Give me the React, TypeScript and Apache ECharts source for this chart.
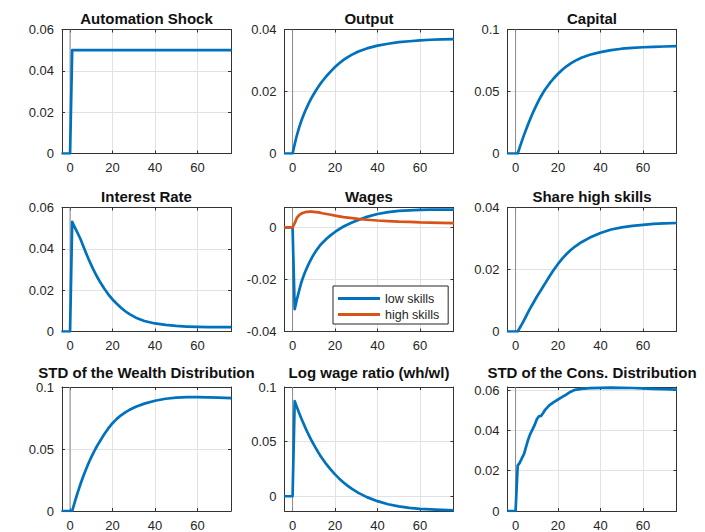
import React, { useEffect, useRef } from "react";
import * as echarts from "echarts";

// Periods after the automation shock (shock hits at t = 1)
const periods = [
  -4, 0,
  1, 2, 3, 4, 5, 6, 7,
  8, 9, 10, 11, 12, 13, 14,
  16, 18, 20, 22, 24, 26, 28,
  31, 35, 40, 45, 50,
  55, 60, 65, 70, 76,
];

const automationShock = [
  0, 0,
  0.05, 0.05, 0.05, 0.05, 0.05, 0.05, 0.05,
  0.05, 0.05, 0.05, 0.05, 0.05, 0.05, 0.05,
  0.05, 0.05, 0.05, 0.05, 0.05, 0.05, 0.05,
  0.05, 0.05, 0.05, 0.05, 0.05,
  0.05, 0.05, 0.05, 0.05, 0.05,
];

const output = [
  0, 0,
  0.003, 0.0058, 0.0082, 0.0103, 0.0121, 0.0138, 0.0153,
  0.0167, 0.018, 0.0192, 0.0203, 0.0214, 0.0224, 0.0233,
  0.025, 0.0265, 0.0279, 0.0291, 0.0302, 0.0311, 0.0319,
  0.0329, 0.0339, 0.0348, 0.0354, 0.0359,
  0.0362, 0.0365, 0.0367, 0.0368, 0.0369,
];

const capital = [
  0, 0,
  0, 0.0052, 0.0102, 0.015, 0.0196, 0.024, 0.0282,
  0.0322, 0.036, 0.0396, 0.043, 0.0462, 0.0492, 0.0518,
  0.0565, 0.0607, 0.0643, 0.0675, 0.0703, 0.0727, 0.0747,
  0.0772, 0.0796, 0.0818, 0.0834, 0.0845,
  0.0852, 0.0857, 0.086, 0.0863, 0.0866,
];

const interestRate = [
  0, 0,
  0.053, 0.0509, 0.0488, 0.0467, 0.0445, 0.0419, 0.0393,
  0.0368, 0.0344, 0.0321, 0.0299, 0.0279, 0.026, 0.0242,
  0.0209, 0.018, 0.0155, 0.0134, 0.0115, 0.0098, 0.0084,
  0.0067, 0.0051, 0.0039, 0.0032, 0.0027,
  0.0024, 0.0022, 0.0021, 0.0021, 0.0021,
];

const wagesLowSkills = [
  0, 0,
  -0.0314, -0.0278, -0.0246, -0.0215, -0.0191, -0.017, -0.0151,
  -0.0134, -0.0118, -0.0104, -0.0091, -0.008, -0.0069, -0.006,
  -0.0044, -0.003, -0.0018, -0.0007, 0.0003, 0.0011, 0.0018,
  0.0028, 0.004, 0.0051, 0.0058, 0.0063,
  0.0065, 0.0067, 0.0068, 0.0068, 0.0068,
];

const wagesHighSkills = [
  0, 0,
  0.0016, 0.0036, 0.0046, 0.0052, 0.0056, 0.0058, 0.0059,
  0.006, 0.006, 0.0059, 0.0058, 0.0057, 0.0056, 0.0054,
  0.0051, 0.0048, 0.0045, 0.0042, 0.0039, 0.0037, 0.0035,
  0.0032, 0.0029, 0.0026, 0.0024, 0.0022,
  0.0021, 0.0019, 0.0018, 0.0017, 0.0016,
];

const shareHighSkills = [
  0, 0,
  0, 0.0012, 0.0024, 0.0037, 0.005, 0.0063, 0.0076,
  0.0088, 0.01, 0.0112, 0.0123, 0.0134, 0.0145, 0.0156,
  0.0178, 0.0199, 0.0218, 0.0235, 0.025, 0.0263, 0.0274,
  0.0288, 0.0303, 0.0318, 0.0329, 0.0336,
  0.0341, 0.0344, 0.0347, 0.0349, 0.035,
];

const wealthStd = [
  0, 0,
  0, 0.006, 0.0117, 0.0171, 0.0222, 0.027, 0.0315,
  0.0357, 0.0397, 0.0434, 0.0469, 0.0502, 0.0533, 0.0561,
  0.0617, 0.0666, 0.0708, 0.0743, 0.0772, 0.0796, 0.0816,
  0.0841, 0.0866, 0.0889, 0.0905, 0.0914,
  0.0918, 0.0919, 0.0917, 0.0914, 0.091,
];

const logWageRatio = [
  0, 0,
  0.087, 0.0818, 0.0767, 0.0718, 0.0672, 0.0628, 0.0586,
  0.0546, 0.0508, 0.0472, 0.0438, 0.0405, 0.0374, 0.0345,
  0.0291, 0.0243, 0.02, 0.0161, 0.0126, 0.0095, 0.0067,
  0.0031, -0.0008, -0.0045, -0.0073, -0.0092,
  -0.0106, -0.0115, -0.0121, -0.0125, -0.0128,
];

const consStd = [
  0, 0,
  0.0225, 0.024, 0.0262, 0.0283, 0.032, 0.0356, 0.0384,
  0.0405, 0.0427, 0.0455, 0.047, 0.0472, 0.0486, 0.0503,
  0.0525, 0.054, 0.0553, 0.0566, 0.0578, 0.0592, 0.0601,
  0.0606, 0.0609, 0.0611, 0.0612, 0.0611,
  0.061, 0.0608, 0.0606, 0.0604, 0.0602,
];

const xTicks = [0, 20, 40, 60];
const X_MIN = -3.8;
const X_MAX = 75.8;

const FONT = '"Liberation Sans", Arial, Helvetica, sans-serif';
const INK = "#262626";
const BOX = "#333333";
const GRID_LINE = "#e2e2e2";
const ZERO_LINE = "#8a8a8a";
const BLUE = "#0072BD";
const ORANGE = "#D95319";

type Curve = { name?: string; values: number[]; color: string };
type Panel = {
  title: string;
  yMin: number;
  yMax: number;
  yTicks: number[];
  curves: Curve[];
};

const panels: Panel[] = [
  { title: "Automation Shock", yMin: 0, yMax: 0.06, yTicks: [0, 0.02, 0.04, 0.06], curves: [{ values: automationShock, color: BLUE }] },
  { title: "Output", yMin: 0, yMax: 0.04, yTicks: [0, 0.02, 0.04], curves: [{ values: output, color: BLUE }] },
  { title: "Capital", yMin: 0, yMax: 0.1, yTicks: [0, 0.05, 0.1], curves: [{ values: capital, color: BLUE }] },
  { title: "Interest Rate", yMin: 0, yMax: 0.06, yTicks: [0, 0.02, 0.04, 0.06], curves: [{ values: interestRate, color: BLUE }] },
  {
    title: "Wages", yMin: -0.04, yMax: 0.0076, yTicks: [-0.04, -0.02, 0],
    curves: [
      { name: "low skills", values: wagesLowSkills, color: BLUE },
      { name: "high skills", values: wagesHighSkills, color: ORANGE },
    ],
  },
  { title: "Share high skills", yMin: 0, yMax: 0.04, yTicks: [0, 0.02, 0.04], curves: [{ values: shareHighSkills, color: BLUE }] },
  { title: "STD of the Wealth Distribution", yMin: 0, yMax: 0.1, yTicks: [0, 0.05, 0.1], curves: [{ values: wealthStd, color: BLUE }] },
  { title: "Log wage ratio (wh/wl)", yMin: -0.0135, yMax: 0.1, yTicks: [0, 0.05, 0.1], curves: [{ values: logWageRatio, color: BLUE }] },
  { title: "STD of the Cons. Distribution", yMin: 0, yMax: 0.0615, yTicks: [0, 0.02, 0.04, 0.06], curves: [{ values: consStd, color: BLUE }] },
];

const colLeft = [62, 284.5, 507.5];
const colWidth = 169;
const rowTop = [29.5, 207.5, 387];
const rowHeight = 124;
const titleY = [18.7, 196.7, 372.6];

function buildOption() {
  const grid: any[] = [];
  const xAxis: any[] = [];
  const yAxis: any[] = [];
  const series: any[] = [];
  const graphic: any[] = [];

  panels.forEach((p, i) => {
    const r = Math.floor(i / 3);
    const c = i % 3;
    const left = colLeft[c];
    const top = rowTop[r];
    grid.push({ left, top, width: colWidth, height: rowHeight, show: false });

    const axisLine = { show: true, onZero: false, lineStyle: { color: BOX, width: 1 } };
    const tick = (values: number[]) => ({
      show: true,
      inside: true,
      length: 3,
      customValues: values,
      lineStyle: { color: BOX, width: 1 },
    });
    const label = (values: number[], margin: number) => ({
      customValues: values,
      color: INK,
      fontSize: 13,
      lineHeight: 10,
      fontFamily: FONT,
      margin,
    });

    xAxis.push({
      type: "value", gridIndex: i, position: "bottom", min: X_MIN, max: X_MAX,
      axisLine, axisTick: tick(xTicks), axisLabel: label(xTicks, 9),
      splitLine: { show: true, lineStyle: { color: GRID_LINE, width: 1 } },
    });
    xAxis.push({
      type: "value", gridIndex: i, position: "top", min: X_MIN, max: X_MAX,
      axisLine, axisTick: tick(xTicks), axisLabel: { show: false },
      splitLine: { show: false },
    });
    yAxis.push({
      type: "value", gridIndex: i, position: "left", min: p.yMin, max: p.yMax,
      axisLine, axisTick: tick(p.yTicks), axisLabel: label(p.yTicks, 8),
      splitLine: { show: true, lineStyle: { color: GRID_LINE, width: 1 } },
    });
    yAxis.push({
      type: "value", gridIndex: i, position: "right", min: p.yMin, max: p.yMax,
      axisLine, axisTick: tick(p.yTicks), axisLabel: { show: false },
      splitLine: { show: false },
    });

    // vertical reference line at t = 0
    series.push({
      type: "line",
      xAxisIndex: 2 * i,
      yAxisIndex: 2 * i,
      data: [[0, p.yMin], [0, p.yMax]],
      symbol: "none",
      silent: true,
      lineStyle: { color: ZERO_LINE, width: 1 },
      z: 2,
    });

    p.curves.forEach((cv) => {
      series.push({
        type: "line",
        name: cv.name,
        xAxisIndex: 2 * i,
        yAxisIndex: 2 * i,
        data: periods.map((t, k) => [t, cv.values[k]]),
        symbol: "none",
        showSymbol: false,
        silent: true,
        clip: true,
        lineStyle: { color: cv.color, width: 2.7, join: "round" },
        itemStyle: { color: cv.color },
        z: 3,
      });
    });

    graphic.push({
      type: "text",
      x: left + colWidth / 2,
      y: titleY[r],
      silent: true,
      style: {
        text: p.title,
        font: `bold 15px ${FONT}`,
        lineHeight: 11,
        fill: "#111111",
        textAlign: "center",
        textVerticalAlign: "middle",
        align: "center",
        verticalAlign: "middle",
      },
    });
  });

  return {
    animation: false,
    backgroundColor: "#ffffff",
    grid,
    xAxis,
    yAxis,
    series,
    graphic,
    legend: {
      data: ["low skills", "high skills"],
      left: 333,
      top: 286,
      orient: "vertical",
      icon: "rect",
      itemWidth: 42,
      itemHeight: 3,
      itemGap: 3,
      padding: [6, 9, 3, 5],
      borderColor: INK,
      borderWidth: 1,
      backgroundColor: "#ffffff",
      selectedMode: false,
      textStyle: { color: INK, fontSize: 12.5, fontFamily: FONT },
      z: 10,
    },
  };
}

export default function App() {
  const ref = useRef<HTMLDivElement>(null);

  useEffect(() => {
    if (!ref.current) return;
    const chart = echarts.init(ref.current, undefined, { renderer: "svg" });
    chart.setOption(buildOption() as any);
    return () => chart.dispose();
  }, []);

  return (
    <div
      ref={ref}
      style={{ position: "absolute", left: 0, top: 0, width: 705, height: 532, background: "#ffffff" }}
    />
  );
}
